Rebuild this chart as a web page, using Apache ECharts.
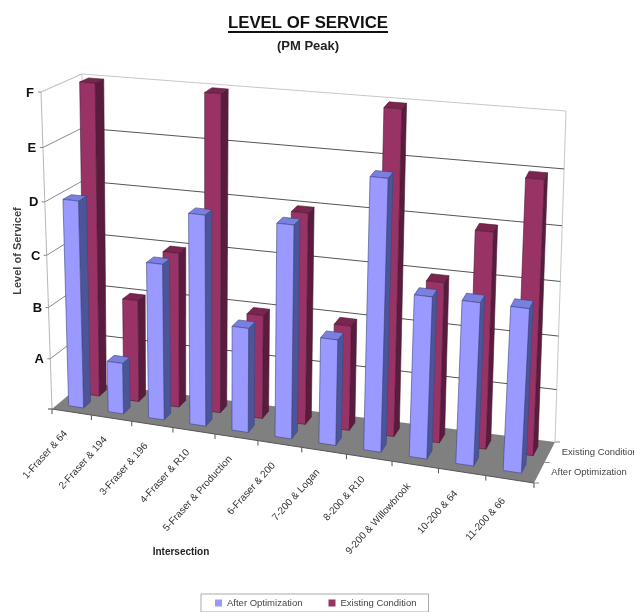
<!DOCTYPE html>
<html>
<head>
<meta charset="utf-8">
<style>html,body{margin:0;padding:0;background:#fff}#c{width:634px;height:612px}</style>
<script src="https://cdn.jsdelivr.net/npm/echarts@6/dist/echarts.min.js"></script>
</head>
<body>
<div id="c"></div>
<script>
const categories = ['1-Fraser & 64','2-Fraser & 194','3-Fraser & 196','4-Fraser & R10','5-Fraser & Production','6-Fraser & 200','7-200 & Logan','8-200 & R10','9-200 & Willowbrook','10-200 & 64','11-200 & 66'];
const levelLabels = ['A','B','C','D','E','F'];
const afterOptimization = [4,1,3,4,2,4,2,5,3,3,3];
const existingCondition = [6,2,3,6,2,4,2,6,3,4,5];
const depthLabels = ['After Optimization','Existing Condition'];

const FONT = '"Liberation Sans", Arial, sans-serif';
const C = {
  flb:[52,409], frb:[534,483], blb:[84,382], brb:[555,442],
  flt:[41,92],  frt:[553,141], blt:[82,74],  brt:[566,111]
};
function mix(a,b,k){return [a[0]+(b[0]-a[0])*k,a[1]+(b[1]-a[1])*k];}
function project(n,v,t){
  const nn=n*(0.89+0.11*n), tt=t*(0.94+0.06*t);
  const fb=mix(C.flb,C.frb,nn), bb=mix(C.blb,C.brb,nn), ft=mix(C.flt,C.frt,nn), bt=mix(C.blt,C.brt,nn);
  return mix(mix(fb,bb,v),mix(ft,bt,v),tt);
}
function norm(params,api,i,level){
  const p=api.coord([i,level]), g=params.coordSys;
  return [(p[0]-g.x)/g.width,(g.y+g.height-p[1])/g.height];
}
function poly(points,fill,stroke,lw){
  return {type:'polygon',shape:{points},style:{fill,stroke:stroke||null,lineWidth:lw||0}};
}
function line(a,b,stroke,lw){
  return {type:'line',shape:{x1:a[0],y1:a[1],x2:b[0],y2:b[1]},style:{stroke,lineWidth:lw||1,fill:null}};
}
function label(text,x,y,opt){
  return Object.assign({type:'text',x,y,style:Object.assign({text,fill:'#222',textAlign:'center',textVerticalAlign:'middle',font:'11px '+FONT},opt.style||{})},opt.rotation!==undefined?{rotation:opt.rotation}:{});
}
function barRenderer(v0,v1,shift,front,side,top,edge){
  return function(params,api){
    const i=api.value(0), val=api.value(1);
    const [n0,t0]=norm(params,api,i,0), [,t1]=norm(params,api,i,val);
    const half=0.19/categories.length, off=shift/categories.length;
    const a=n0+off-half, b=n0+off+half;
    const f0=project(a,v0,t0), f1=project(b,v0,t0), f2=project(b,v0,t1), f3=project(a,v0,t1);
    const s1=project(b,v1,t0), s2=project(b,v1,t1), s3=project(a,v1,t1);
    return {type:'group',children:[
      poly([f1,s1,s2,f2],side,edge,0.6),
      poly([f3,f2,s2,s3],top,edge,0.6),
      poly([f0,f1,f2,f3],front,edge,0.6)
    ]};
  };
}
function frameRenderer(params,api){
  const kids=[];
  const lv=(l)=>norm(params,api,0,l)[1];
  const t0=lv(0), t6=lv(levelLabels.length);
  kids.push(poly([project(0,0,t0),project(1,0,t0),project(1,1,t0),project(0,1,t0)],'#808080'));
  kids.push(line(project(0,0,t0),project(0,0,t6),'#b8b8b8',1));
  kids.push(line(project(0,0,t6),project(0,1,t6),'#c8c8c8',1));
  kids.push(line(project(0,1,t0),project(0,1,t6),'#c8c8c8',1));
  kids.push(line(project(0,1,t6),project(1,1,t6),'#c8c8c8',1));
  kids.push(line(project(1,1,t0),project(1,1,t6),'#c8c8c8',1));
  for(let l=1;l<=levelLabels.length;l++){
    const t=lv(l), isTop=l===levelLabels.length;
    kids.push(line(project(0,0,t),project(0,1,t),isTop?'#c8c8c8':'#8a8a8a',1));
    if(!isTop) kids.push(line(project(0,1,t),project(1,1,t),'#555',1));
    const e=project(0,0,t);
    kids.push(line([e[0]-3,e[1]],e,'#888',1));
    kids.push(label(levelLabels[l-1],e[0]-11,e[1]+1,{style:{font:'bold 13px '+FONT,fill:'#111',textAlign:'center'}}));
  }
  const s=project(0,0,t0);
  kids.push(line([s[0]-4,s[1]],s,'#444',1));
  for(let i=0;i<=categories.length;i++){
    const n=i/categories.length, p=project(n,0,t0);
    kids.push(line(p,[p[0],p[1]+5],'#555',1));
  }
  kids.push(line(project(0,0,t0),project(1,0,t0),'#555',1));
  categories.forEach((name,i)=>{
    const p=project((i+0.5)/categories.length,0,t0);
    kids.push(label(name,p[0]-6,p[1]+20,{rotation:48*Math.PI/180,style:{text:name,textAlign:'right',font:'10px '+FONT,fill:'#333'}}));
  });
  depthLabels.forEach((name,k)=>{
    const p=project(1,(k+0.5)/depthLabels.length,t0);
    kids.push(label(name,p[0]+12,p[1]+0,{style:{text:name,textAlign:'left',font:'9.5px '+FONT,fill:'#444'}}));
  });
  [0,0.5,1].forEach(v=>{const p=project(1,v,t0);kids.push(line(p,[p[0]+5,p[1]],'#888',1));});
  kids.push(label('Level of Servicef',18,251,{rotation:Math.PI/2,style:{text:'Level of Servicef',font:'bold 11px '+FONT,fill:'#444'}}));
  kids.push(label('Intersection',181,552,{style:{text:'Intersection',font:'bold 10px '+FONT,fill:'#222'}}));
  return {type:'group',children:kids};
}

const chart=echarts.init(document.getElementById('c'));
chart.setOption({
  animation:false,
  backgroundColor:'#fff',
  title:{text:'LEVEL OF SERVICE',subtext:'(PM Peak)',left:303,textAlign:'center',top:10,itemGap:8,
    textStyle:{fontFamily:FONT,fontWeight:'bold',fontSize:16.8,color:'#111'},
    subtextStyle:{fontFamily:FONT,fontWeight:'bold',fontSize:13,color:'#222'}},
  graphic:[{type:'line',shape:{x1:228,y1:32,x2:388,y2:32},style:{stroke:'#111',lineWidth:2}}],
  legend:{data:depthLabels,left:201,top:594,itemWidth:7,itemHeight:7,itemGap:26,padding:[4,12,4,14],
    borderColor:'#aaa',borderWidth:1,icon:'rect',
    textStyle:{fontFamily:FONT,fontSize:9.5,color:'#444'}},
  grid:{left:0,right:0,top:0,bottom:0,containLabel:false},
  xAxis:{type:'category',data:categories,show:false},
  yAxis:{type:'value',min:0,max:levelLabels.length,interval:1,show:false},
  series:[
    {type:'custom',silent:true,data:[[0,0]],renderItem:frameRenderer,clip:false,z:1},
    {type:'custom',name:'Existing Condition',data:existingCondition.map((v,i)=>[i,v]),clip:false,z:2,
      itemStyle:{color:'#993366'},
      renderItem:barRenderer(0.62,0.84,0.02,'#993366','#5a1c3e','#7c2450','#4a1833')},
    {type:'custom',name:'After Optimization',data:afterOptimization.map((v,i)=>[i,v]),clip:false,z:3,
      itemStyle:{color:'#9999ff'},
      renderItem:barRenderer(0.18,0.40,-0.03,'#9999ff','#4d5599','#7a80e0','#3c4480')}
  ]
});
</script>
</body>
</html>
